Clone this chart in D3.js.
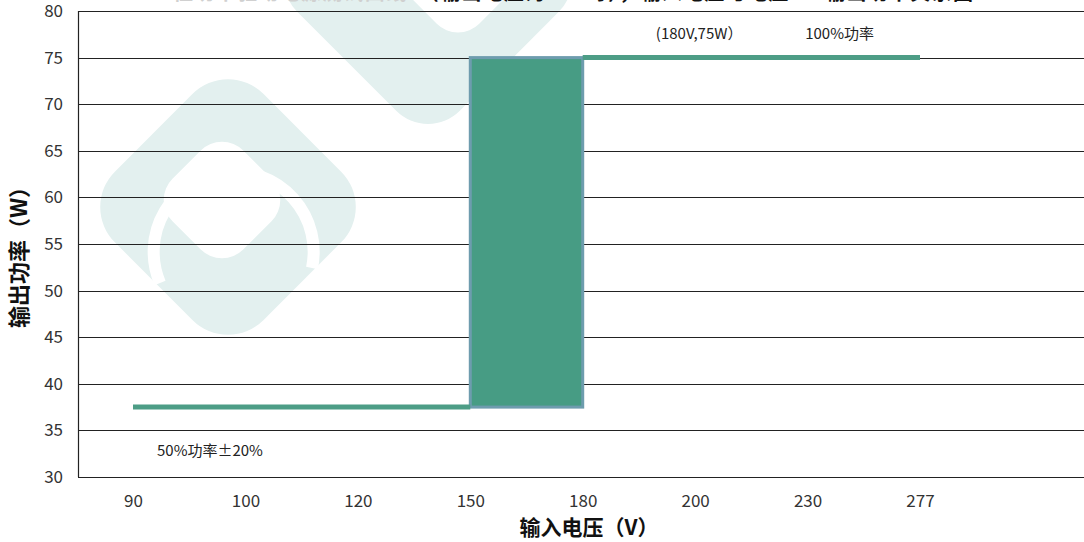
<!DOCTYPE html>
<html>
<head>
<meta charset="utf-8">
<script src="https://cdn.jsdelivr.net/npm/d3@7"></script>
<style>
  body { margin: 0; background: #fff; }
  svg { display: block; }
  .tick text { font-family: "Noto Sans CJK SC", "DejaVu Sans", sans-serif; }
</style>
</head>
<body>
<div class="powerChart"></div>
<script>
// input voltage categories (V) and output power (W)
const voltages = ["90", "100", "120", "150", "180", "200", "230", "277"];
const lowVoltages = ["90", "100", "120", "150"];
const lowPower = [37.5, 37.5, 37.5, 37.5];
const highVoltages = ["180", "200", "230", "277"];
const highPower = [75, 75, 75, 75];
// transition band between 150V and 180V
const bandVoltages = ["150", "180"];
const bandPower = [37.5, 75];
const yTicks = [30, 35, 40, 45, 50, 55, 60, 65, 70, 75, 80];

const width = 1084, height = 542;
const margin = { top: 11, right: 0, bottom: 65, left: 78 };

let svg = d3
  .select(".powerChart")
  .append("svg")
  .attr("width", width)
  .attr("height", height);

// faint watermark behind the plot
let wm = svg.append("g").attr("fill", "#e3f0ef");
wm.append("rect")
  .attr("x", -105).attr("y", -105).attr("width", 210).attr("height", 210)
  .attr("rx", 50)
  .attr("transform", "translate(228,207) rotate(45)");
wm.append("rect")
  .attr("x", -50).attr("y", -50).attr("width", 100).attr("height", 100)
  .attr("rx", 30).attr("fill", "#fff")
  .attr("transform", "translate(222,200) rotate(45)");
wm.append("path")
  .attr("d", "M160,283 A80,80 0 1 1 312,268")
  .attr("fill", "none").attr("stroke", "#fff").attr("stroke-width", 12);
wm.append("rect")
  .attr("x", -115).attr("y", -115).attr("width", 230).attr("height", 230)
  .attr("rx", 45)
  .attr("transform", "translate(428,-20) rotate(45)");
wm.append("rect")
  .attr("x", -60).attr("y", -60).attr("width", 120).attr("height", 120)
  .attr("rx", 30).attr("fill", "#fff")
  .attr("transform", "translate(458,-40) rotate(45)");

const x = d3.scalePoint()
  .domain(voltages)
  .range([133, 920]);

const y = d3.scaleLinear()
  .domain([30, 80])
  .range([height - margin.bottom, margin.top]);

// horizontal grid
svg.append("g")
  .selectAll("line")
  .data(yTicks)
  .enter()
  .append("line")
  .attr("x1", margin.left)
  .attr("x2", width)
  .attr("y1", function(d) { return Math.round(y(d)) + 0.5; })
  .attr("y2", function(d) { return Math.round(y(d)) + 0.5; })
  .attr("stroke", "#222")
  .attr("stroke-width", 1.2);

// left axis line + labels
svg.append("line")
  .attr("x1", margin.left + 0.5).attr("x2", margin.left + 0.5)
  .attr("y1", y(80)).attr("y2", y(30))
  .attr("stroke", "#222").attr("stroke-width", 1.2);

const yAxis = d3.axisLeft(y).tickValues(yTicks).tickSize(0).tickPadding(15);
svg.append("g")
  .attr("transform", "translate(" + margin.left + ",0)")
  .call(yAxis)
  .call(function(g) { g.select(".domain").remove(); })
  .selectAll("text")
  .attr("font-size", 17)
  .attr("fill", "#333");

const xAxis = d3.axisBottom(x).tickSize(0).tickPadding(18);
svg.append("g")
  .attr("transform", "translate(0," + y(30) + ")")
  .call(xAxis)
  .call(function(g) { g.select(".domain").remove(); })
  .selectAll("text")
  .attr("font-size", 17)
  .attr("fill", "#333");

// transition band
svg.append("rect")
  .attr("x", x(bandVoltages[0]))
  .attr("y", y(bandPower[1]))
  .attr("width", x(bandVoltages[1]) - x(bandVoltages[0]))
  .attr("height", y(bandPower[0]) - y(bandPower[1]))
  .attr("fill", "#479c84")
  .attr("stroke", "#6e9cae")
  .attr("stroke-width", 3);

const line = d3.line()
  .x(function(d) { return x(d[0]); })
  .y(function(d) { return y(d[1]); });

svg.append("path")
  .datum(d3.zip(lowVoltages, lowPower))
  .attr("d", line)
  .attr("fill", "none")
  .attr("stroke", "#4d9d86")
  .attr("stroke-width", 5);

svg.append("path")
  .datum(d3.zip(highVoltages, highPower))
  .attr("d", line)
  .attr("fill", "none")
  .attr("stroke", "#4d9d86")
  .attr("stroke-width", 5);

// annotations
const noteFont = "'Noto Sans CJK SC', sans-serif";
svg.append("text")
  .attr("x", x("200") + 4)
  .attr("y", y(75) - 19)
  .attr("text-anchor", "middle")
  .attr("font-family", noteFont)
  .attr("font-size", 15)
  .attr("fill", "#222")
  .text("(180V,75W）");

svg.append("text")
  .attr("x", x("230") + 32)
  .attr("y", y(75) - 19)
  .attr("text-anchor", "middle")
  .attr("font-family", noteFont)
  .attr("font-size", 15)
  .attr("fill", "#222")
  .text("100%功率");

svg.append("text")
  .attr("x", x("90") + 24)
  .attr("y", y(35) + 26)
  .attr("font-family", noteFont)
  .attr("font-size", 15)
  .attr("fill", "#222")
  .text("50%功率±20%");

// axis titles
svg.append("text")
  .attr("x", 589)
  .attr("y", 535)
  .attr("text-anchor", "middle")
  .attr("font-family", noteFont)
  .attr("font-weight", "bold")
  .attr("font-size", 21)
  .attr("fill", "#111")
  .text("输入电压（V）");

svg.append("text")
  .attr("transform", "translate(27,252) rotate(-90)")
  .attr("text-anchor", "middle")
  .attr("font-family", noteFont)
  .attr("font-weight", "bold")
  .attr("font-size", 22)
  .attr("fill", "#111")
  .text("输出功率（W）");

// title, mostly cut off above the picture
let title = svg.append("text")
  .attr("x", 573)
  .attr("y", 0)
  .attr("text-anchor", "middle")
  .attr("font-family", noteFont)
  .attr("font-weight", "bold")
  .attr("font-size", 20)
  .attr("textLength", 800)
  .attr("lengthAdjust", "spacing");
title.append("tspan").attr("fill", "#d0d0d0").text("恒功率驱动电源测试曲线：");
title.append("tspan").attr("fill", "#111").text("（输出电压为36V时），输入电压与电压——输出功率关系图");
</script>
</body>
</html>
